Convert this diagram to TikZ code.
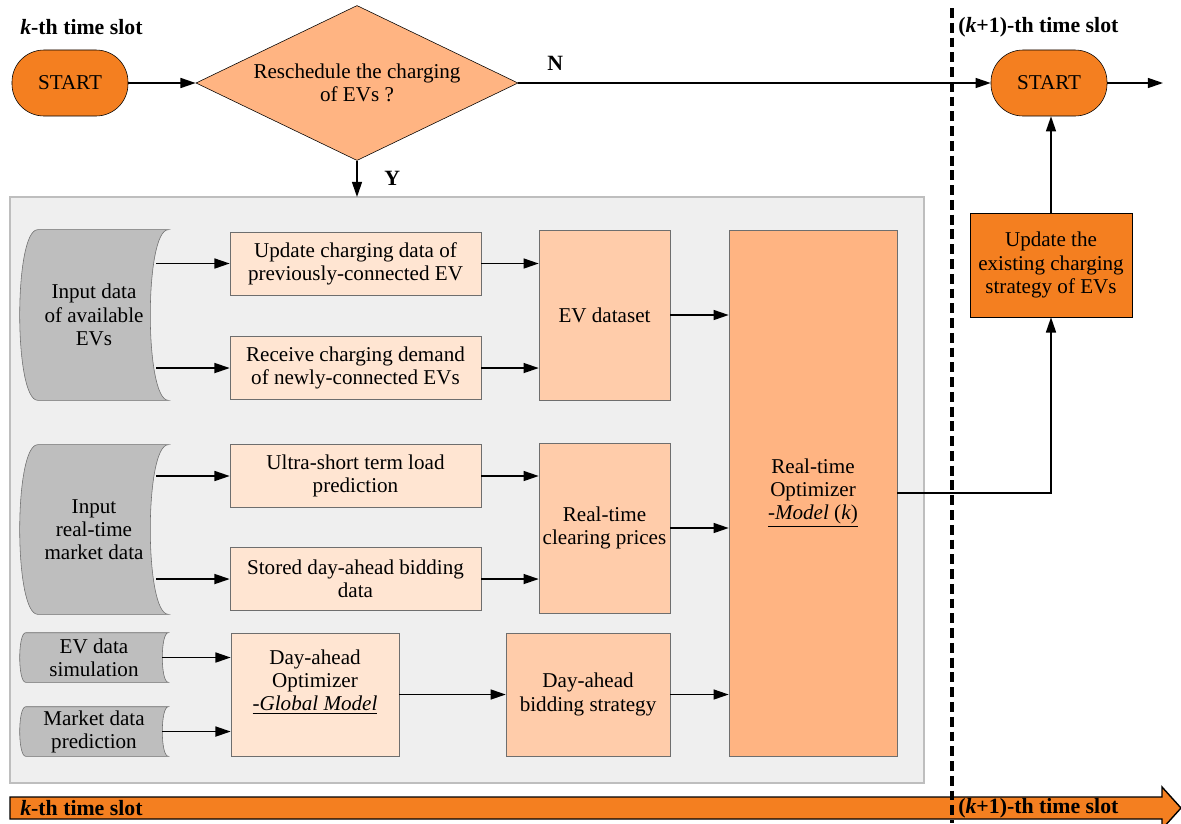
\documentclass[tikz,border=0pt]{standalone}
\usepackage{fontspec}
\setmainfont{Liberation Serif}
\usetikzlibrary{positioning,shapes.geometric,arrows.meta,calc,backgrounds}

\definecolor{startorange}{RGB}{244,127,32}
\definecolor{deeppeach}{RGB}{255,180,130}
\definecolor{midpeach}{RGB}{255,204,170}
\definecolor{lightpeach}{RGB}{255,229,210}
\definecolor{datagray}{RGB}{190,190,190}
\definecolor{panelgray}{RGB}{239,239,239}
\definecolor{edgegray}{RGB}{110,110,110}

\tikzset{main node/.style={rectangle,draw=edgegray,align=center,inner sep=0pt,font=\fontsize{15}{16.5}\selectfont},
  start node/.style={main node,draw=black,fill=startorange,rounded corners=0.8cm,minimum width=2.9cm,minimum height=1.65cm},
  task node/.style={main node,fill=lightpeach,minimum width=6.275cm,minimum height=1.575cm},
  data node/.style={main node,draw=none,minimum width=3.7cm},
  slot label/.style={font=\fontsize{15.5}{18}\selectfont\bfseries,inner sep=0pt,anchor=west},
  link/.style={-{Triangle[length=0.38cm,width=0.25cm]},line width=1.1pt} }

% curved input shape behind a data node
\newcommand{\datashape}[2]{%
  \begin{scope}[on background layer]
  \filldraw[fill=datagray,draw=edgegray]
    ([xshift=#2]#1.north west) -- (#1.north east)
    .. controls ([xshift=-4/3*#2]#1.north east) and ([xshift=-4/3*#2]#1.south east) .. (#1.south east)
    -- ([xshift=#2]#1.south west)
    .. controls ([xshift=-1/3*#2]#1.south west) and ([xshift=-1/3*#2]#1.north west) .. ([xshift=#2]#1.north west) -- cycle;
  \end{scope}}

\begin{document}
\begin{tikzpicture}[x=0.025cm,y=-0.025cm]
\useasboundingbox (0,0) rectangle (1181,823);
\begin{scope}[on background layer]
  \filldraw[fill=panelgray,draw=datagray,line width=0.8pt] (10,197) rectangle (924,783);
\end{scope}

  % top row
  \node[slot label] (20) at (20,27) {\textit{k}-th time slot};
  \node[slot label] (21) at (958,27) {(\textit{k}+1)-th time slot};
  \node[start node] (1) at (70,83) {START};
  \node[main node,diamond,aspect=2.08,draw=black,fill=deeppeach,minimum width=8.05cm,minimum height=3.875cm] (2) at (357,83) {Reschedule the charging\\of EVs ?};
  \node[start node] (3) at (1049,83) {START};
  \coordinate (18) at (1163,83);
  \coordinate (19) at (357,197);
  \node[slot label] (22) at (547,63) {N};
  \node[slot label] (23) at (384,178) {Y};

\begin{scope}[on grid]
  \node[data node,minimum height=4.25cm] (4) at (94,315) {Input data\\of available\\EVs};
  \node[task node] (5) at (355.5,263.5) {Update charging data of\\previously-connected EV};
  \node[task node] (6) [below=2.6125cm of 5] {Receive charging demand\\of newly-connected EVs};
  \node[main node,fill=midpeach,minimum width=3.275cm,minimum height=4.25cm] (7) at (604.5,315) {EV dataset};
  \node[main node,fill=deeppeach,minimum width=4.2cm,minimum height=13.15cm] (8) at (813,493) {Real-time\\Optimizer\\\underline{-\textit{Model} (\textit{k})}};

  \node[data node,minimum height=4.225cm] (9) at (94,529.5) {Input\\real-time\\market data};
  \node[task node] (10) at (355.5,476) {Ultra-short term load\\prediction};
  \node[task node] (11) [below=2.575cm of 10] {Stored day-ahead bidding\\data};
  \node[main node,fill=midpeach,minimum width=3.275cm,minimum height=4.25cm] (12) at (604.5,528) {Real-time\\clearing prices};

  \node[data node,minimum height=1.225cm] (13) at (94,657.5) {EV data\\simulation};
  \node[data node,minimum height=1.225cm] (14) [below=1.85cm of 13] {Market data\\prediction};
  \node[main node,fill=lightpeach,minimum width=4.2cm,minimum height=3.075cm] (15) at (315,694.5) {Day-ahead\\Optimizer\\\underline{\textit{-Global Model}}\\[4pt]};
  \node[main node,fill=midpeach,minimum width=4.1cm,minimum height=3.075cm] (16) [right=6.825cm of 15] {Day-ahead\\bidding strategy};

  \node[main node,draw=black,fill=startorange,minimum width=4.05cm,minimum height=2.6cm] (17) at (1051,265) {Update the\\existing charging\\strategy of EVs};
\end{scope}

  \datashape{4}{0.45cm}
  \datashape{9}{0.45cm}
  \datashape{13}{0.15cm}
  \datashape{14}{0.15cm}

  % connectors
  \draw[link] (1) -- (2);
  \draw[link] (2.east) -- (3);
  \draw[link] (3) -- (18);
  \draw[link] (2.south) -- (19);
  \draw[link] ($(4.east|-5)+(-12,0)$) -- (5);
  \draw[link] ($(4.east|-6)+(-12,0)$) -- (6);
  \draw[link] ($(9.east|-10)+(-12,0)$) -- (10);
  \draw[link] ($(9.east|-11)+(-12,0)$) -- (11);
  \draw[link] ($(13.east)+(-6,0)$) -- (13 -| 15.west);
  \draw[link] ($(14.east)+(-6,0)$) -- (14 -| 15.west);
  \draw[link] (5) -- (5 -| 7.west);
  \draw[link] (6) -- (6 -| 7.west);
  \draw[link] (10) -- (10 -| 12.west);
  \draw[link] (11) -- (11 -| 12.west);
  \draw[link] (7) -- (7 -| 8.west);
  \draw[link] (12) -- (12 -| 8.west);
  \draw[link] (15) -- (16);
  \draw[link] (16) -- (16 -| 8.west);
  \draw[link] (8.east) -| (17);
  \draw[link] (17.north) -- (17.north |- 3.south);

  % time axis
  \filldraw[fill=startorange,draw=black,line width=1pt] (10,797) -- (1162,797) -- (1162,787) -- (1181,808) -- (1162,829) -- (1162,819) -- (10,819) -- cycle;
  \node[slot label] (24) at (20,808) {\textit{k}-th time slot};
  \node[slot label] (25) at (958,808) {(\textit{k}+1)-th time slot};
  \draw[line width=2.8pt,dash pattern=on 7pt off 3.5pt] (952,8) -- (952,823);
\end{tikzpicture}
\end{document}
